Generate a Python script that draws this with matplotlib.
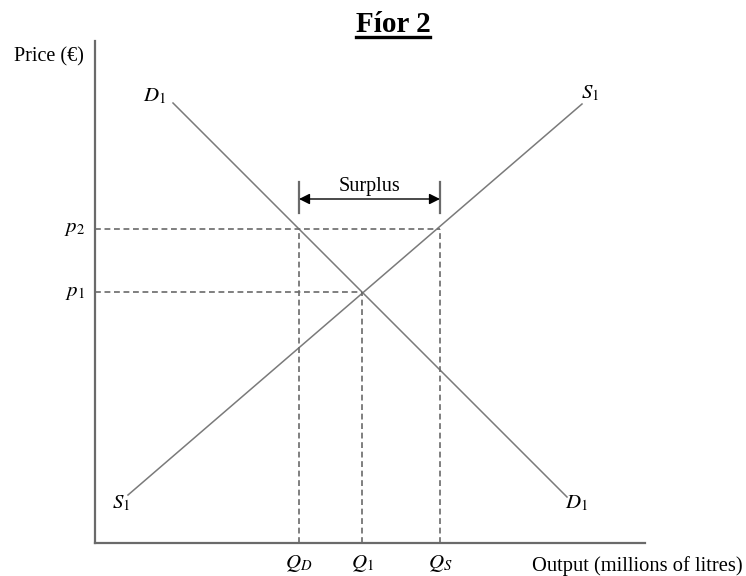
import matplotlib
matplotlib.use("Agg")
import matplotlib.pyplot as plt
from matplotlib.lines import Line2D

plt.rcParams['font.family'] = ['Liberation Serif', 'DejaVu Serif']
plt.rcParams['mathtext.fontset'] = 'stix'

# === Data (axis units) ===
demand_q = [78, 472]
demand_p = [440, 46]
supply_q = [33, 487]
supply_p = [48, 439]

q_marks = [204, 267, 345]            # Q_D, Q_1, Q_S
q_labels = [r'$Q_D$', r'$Q_1$', r'$Q_S$']
p_marks = [314, 251]                 # p_2, p_1
p_labels = [r'$p_2$', r'$p_1$']
p_reach = [345, 267]                 # where the price line meets a curve

x_max, y_max = 550, 502
line_col = '#7a7a7a'
axis_col = '#6a6a6a'
dash = (0, (3.5, 2.2))

fig = plt.figure(figsize=(7.46, 5.76), dpi=100)
ax = fig.add_axes([95 / 746, 33 / 576, 550 / 746, 502 / 576])
ax.set_xlim(0, x_max)
ax.set_ylim(0, y_max)
for side in ['top', 'right']:
    ax.spines[side].set_visible(False)
for side in ['left', 'bottom']:
    ax.spines[side].set_color(axis_col)
    ax.spines[side].set_linewidth(1.6)
ax.set_xticks([])
ax.set_yticks([])

# curves
ax.plot(demand_q, demand_p, color=line_col, lw=1.1)
ax.plot(supply_q, supply_p, color=line_col, lw=1.1)

# dashed guides
for p, q_end in zip(p_marks, p_reach):
    ax.plot([0, q_end], [p, p], color=axis_col, lw=1.2, ls=dash)
ax.plot([q_marks[0], q_marks[0]], [0, p_marks[0]], color=axis_col, lw=1.2, ls=dash)
ax.plot([q_marks[2], q_marks[2]], [0, p_marks[0]], color=axis_col, lw=1.2, ls=dash)
ax.plot([q_marks[1], q_marks[1]], [0, p_marks[1]], color=axis_col, lw=1.2, ls=dash)

# labels on the axes
for q, lab in zip(q_marks, q_labels):
    ax.text(q, -20, lab, ha='center', va='center', fontsize=15, clip_on=False)
for p, lab in zip(p_marks, p_labels):
    ax.text(-20, p, lab, ha='center', va='center', fontsize=15, clip_on=False)

ax.text(-46, 486, 'Price (€)', ha='center', va='center', fontsize=14.5, clip_on=False)
ax.text(437, -23, 'Output (millions of litres)', ha='left', va='center', fontsize=14.8, clip_on=False)

# curve names
ax.text(60, 447, r'$D_1$', ha='center', va='center', fontsize=15)
ax.text(495, 450, r'$S_1$', ha='center', va='center', fontsize=15)
ax.text(26, 40, r'$S_1$', ha='center', va='center', fontsize=15)
ax.text(482, 40, r'$D_1$', ha='center', va='center', fontsize=15)

# surplus bracket
for q in [q_marks[0], q_marks[2]]:
    ax.plot([q, q], [330, 361], color=axis_col, lw=1.6)
ax.annotate('', xy=(q_marks[2], 344), xytext=(q_marks[0], 344),
            arrowprops=dict(arrowstyle='<|-|>', color='black', lw=1.0,
                            mutation_scale=16, shrinkA=0, shrinkB=0))
ax.text((q_marks[0] + q_marks[2]) / 2, 357, 'Surplus', ha='center', va='center', fontsize=14.5)

# title with underline
title = fig.text(393 / 746, 1 - 24 / 576, 'Fíor 2', ha='center', va='center',
                 fontsize=21, fontweight='bold')
fig.canvas.draw()
bb = title.get_window_extent().transformed(fig.transFigure.inverted())
fig.add_artist(Line2D([bb.x0, bb.x1], [bb.y0 + 0.001, bb.y0 + 0.001],
                      transform=fig.transFigure, color='black', lw=2.4))

fig.savefig('out.png', dpi=100)
